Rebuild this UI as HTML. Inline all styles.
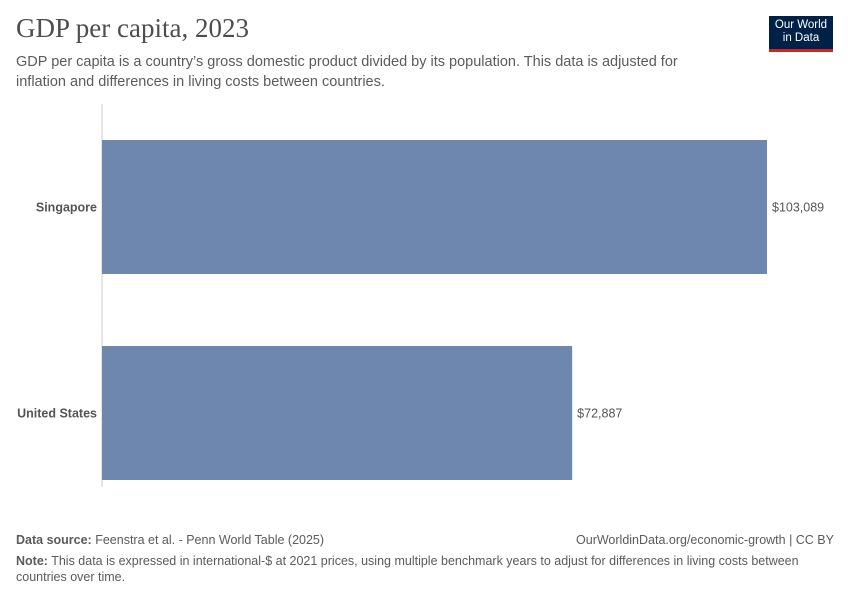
<!DOCTYPE html>
<html><head><meta charset="utf-8"><style>
body{margin:0;width:850px;height:600px;background:#fff;font-family:"Liberation Sans",sans-serif;position:relative;overflow:hidden}
.t{position:absolute}
</style></head><body>
<div class="t" style="left:16px;top:13px;font-family:'Liberation Serif',serif;font-size:27px;color:#4e4e4e">GDP per capita, 2023</div>
<div class="t" style="left:16px;top:52px;font-size:14.5px;line-height:20px;color:#5b5b5b;width:690px">GDP per capita is a country’s gross domestic product divided by its population. This data is adjusted for inflation and differences in living costs between countries.</div>
<div class="t" style="left:769px;top:16px;width:64px;background:#002147;border-bottom:3px solid #ce261e;color:#fff;font-size:11.5px;line-height:13px;text-align:center;padding-top:3px;height:30px">Our World<br>in Data</div>
<svg class="t" style="left:0;top:0" width="850" height="600">
<g id="g"></g>
</svg>
<div class="t" style="left:16px;top:533px;font-size:12.5px;color:#5b5b5b"><b>Data source:</b> Feenstra et al. - Penn World Table (2025)</div>
<div class="t" style="right:16px;top:533px;font-size:12.5px;color:#5b5b5b">OurWorldinData.org/economic-growth | CC BY</div>
<div class="t" style="left:16px;top:553px;width:820px;font-size:12.5px;line-height:16px;color:#5b5b5b"><b>Note:</b> This data is expressed in international-$ at 2021 prices, using multiple benchmark years to adjust for differences in living costs between countries over time.</div>
<script>
const categories=["Singapore","United States"];
const values=[103089,72887];
const labels=["$103,089","$72,887"];
const g=document.getElementById('g');
const NS='http://www.w3.org/2000/svg';
const x0=102,xMax=103089,w=665;
const xs=v=>x0+v/xMax*w;
const ys=i=>140+i*206;
const bh=134;
const ax=document.createElementNS(NS,'line');


ax.setAttribute('x1',x0);ax.setAttribute('x2',x0);ax.setAttribute('y1',104);ax.setAttribute('y2',487);
ax.setAttribute('stroke','#ccc');g.appendChild(ax);
categories.forEach((c,i)=>{
 const r=document.createElementNS(NS,'rect');
 
 
 r.setAttribute('x',x0);r.setAttribute('y',ys(i));r.setAttribute('width',xs(values[i])-x0);r.setAttribute('height',bh);r.setAttribute('fill','#6d87ae');
 g.appendChild(r);
 const t=document.createElementNS(NS,'text');
 
 
 t.setAttribute('x',97);t.setAttribute('y',ys(i)+bh/2+4.5);t.setAttribute('text-anchor','end');
 t.setAttribute('font-size','12.5');t.setAttribute('font-weight','bold');t.setAttribute('fill','#555');t.textContent=c;g.appendChild(t);
 const v=document.createElementNS(NS,'text');
 
 
 v.setAttribute('x',xs(values[i])+5);v.setAttribute('y',ys(i)+bh/2+4.5);
 v.setAttribute('font-size','12.5');v.setAttribute('fill','#555');v.textContent=labels[i];g.appendChild(v);
});
</script>
</body></html>
